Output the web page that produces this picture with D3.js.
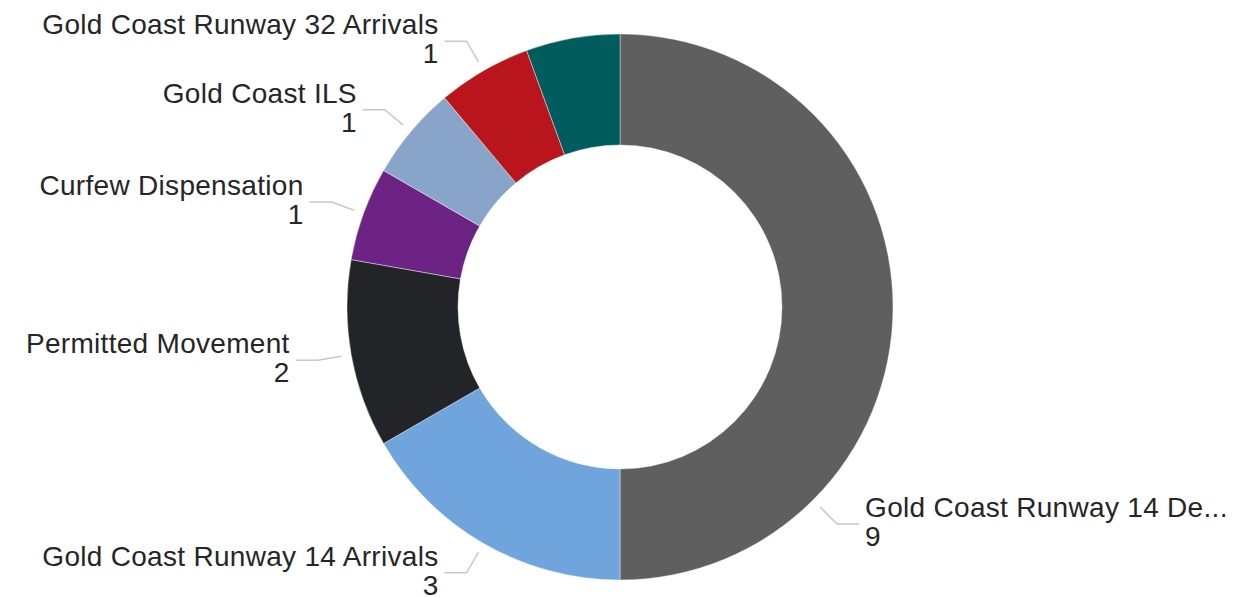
<!DOCTYPE html>
<meta charset="utf-8">
<html>
    <head>
        <title>Donut</title>
        <style>
            body { margin: 0; background: #fff; }
            text { font-family: "Liberation Sans", Arial, sans-serif; fill: #262626; }
        </style>
    </head>

    <body>
        <div id="viz"></div>

        <script src="https://cdnjs.cloudflare.com/ajax/libs/d3/7.8.5/d3.min.js"></script>
        <script>
            // data, clockwise from 12 o'clock
            var categories = [
                "Gold Coast Runway 14 De...",
                "Gold Coast Runway 14 Arrivals",
                "Permitted Movement",
                "Curfew Dispensation",
                "Gold Coast ILS",
                "Gold Coast Runway 32 Arrivals",
                "Gold Coast Runway 32 Departures"
            ];
            var values = [9, 3, 2, 1, 1, 1, 1];
            var colors = ["#5f5f5f", "#6fa4dc", "#232427", "#6c2383", "#88a5c9", "#b8161c", "#015c5e"];

            // label tweaks (the small teal slice gets no label, the big one sits lower)
            var hiddenLabels = ["Gold Coast Runway 32 Departures"];
            var labelAngle = { "Gold Coast Runway 14 De...": 135 };

            var width = 1237, height = 597;
            var cx = 620, cy = 307;
            var outer = 273, inner = 162;

            var svg = d3.select("#viz")
                .append("svg")
                .attr("width", width)
                .attr("height", height);

            var g = svg.append("g").attr("transform", "translate(" + cx + "," + cy + ")");

            var rows = categories.map(function (c, i) {
                return { name: c, value: values[i], color: colors[i] };
            });

            var pie = d3.pie().sort(null).value(function (d) { return d.value; });
            var arc = d3.arc().innerRadius(inner).outerRadius(outer);
            var arcs = pie(rows);

            g.selectAll("path.slice")
                .data(arcs)
                .enter()
                .append("path")
                .attr("class", "slice")
                .attr("d", arc)
                .attr("fill", function (d) { return d.data.color; })
                .attr("stroke", "#fff")
                .attr("stroke-width", 0.4);

            function polar(a, r) {
                return [Math.sin(a) * r, -Math.cos(a) * r];
            }

            var labelled = arcs.filter(function (d) { return hiddenLabels.indexOf(d.data.name) < 0; });

            labelled.forEach(function (d) {
                var a = labelAngle[d.data.name] !== undefined
                    ? labelAngle[d.data.name] * Math.PI / 180
                    : (d.startAngle + d.endAngle) / 2;
                var right = Math.sin(a) > 0;
                var p0 = polar(a, outer + 10);
                var p1 = polar(a, outer + 34);
                var p2 = [p1[0] + (right ? 22 : -22), p1[1]];

                g.append("polyline")
                    .attr("points", [p0, p1, p2].map(function (p) { return p.join(","); }).join(" "))
                    .attr("fill", "none")
                    .attr("stroke", "#c8c8c8")
                    .attr("stroke-width", 1.5);

                var tx = p2[0] + (right ? 6 : -6);
                var t = g.append("text")
                    .attr("text-anchor", right ? "start" : "end")
                    .style("font-size", "28px")
                    .style("letter-spacing", "0.3px");
                t.append("tspan")
                    .attr("x", tx)
                    .attr("y", p1[1] - 7)
                    .text(d.data.name);
                t.append("tspan")
                    .attr("x", tx)
                    .attr("y", p1[1] + 22)
                    .text(d.data.value);
            });
        </script>
    </body>
</html>
